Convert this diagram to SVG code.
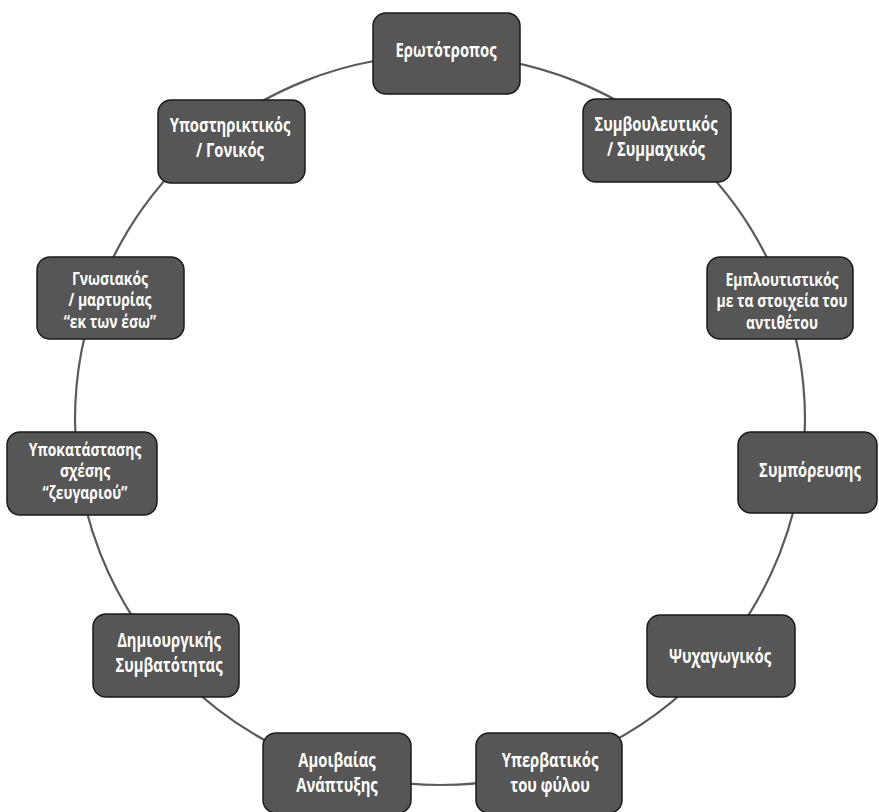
<svg xmlns="http://www.w3.org/2000/svg" width="879" height="812" viewBox="0 0 879 812">
<style>
.n rect{fill:#565656;stroke:#1a1a1a;stroke-width:1.5}
.t{fill:#ffffff;font-family:"Open Sans","Liberation Sans",sans-serif;font-weight:bold;font-size:20px;text-anchor:middle}
.s{fill:#ffffff;font-family:"Open Sans","Liberation Sans",sans-serif;font-weight:bold;font-size:17px;text-anchor:middle}
.c{fill:none;stroke:#5a5a5a;stroke-width:2.2}
</style>
<rect width="879" height="812" fill="#ffffff"/>
<g id="connectors">
<circle class="c" cx="440" cy="420" r="365"/>
</g>
<g id="n1" class="n"><rect x="373" y="13" width="147" height="81" rx="13"/><text class="t" transform="translate(446,57) scale(0.74,1)">Ερωτότροπος</text></g>
<g id="n2" class="n"><rect x="583" y="99" width="148" height="83" rx="13"/><text class="t" transform="translate(656,131) scale(0.74,1)"><tspan x="0" y="0">Συμβουλευτικός</tspan><tspan x="0" y="25">/ Συμμαχικός</tspan></text></g>
<g id="n3" class="n"><rect x="707" y="257" width="146" height="82" rx="13"/><text class="s" font-size="17" transform="translate(782,286) scale(0.82,1)"><tspan x="0" y="0">Εμπλουτιστικός</tspan><tspan x="0" y="21.5">με τα στοιχεία του</tspan><tspan x="0" y="43">αντιθέτου</tspan></text></g>
<g id="n4" class="n"><rect x="738" y="432" width="139" height="81" rx="13"/><text class="t" transform="translate(810,477) scale(0.74,1)">Συμπόρευσης</text></g>
<g id="n5" class="n"><rect x="647" y="615" width="148" height="82" rx="13"/><text class="t" transform="translate(720,663) scale(0.74,1)">Ψυχαγωγικός</text></g>
<g id="n6" class="n"><rect x="476" y="733" width="146" height="80" rx="13"/><text class="t" transform="translate(550,767) scale(0.74,1)"><tspan x="0" y="0">Υπερβατικός</tspan><tspan x="0" y="25">του φύλου</tspan></text></g>
<g id="n7" class="n"><rect x="263" y="733" width="148" height="80" rx="13"/><text class="t" transform="translate(337,767) scale(0.74,1)"><tspan x="0" y="0">Αμοιβαίας</tspan><tspan x="0" y="25">Ανάπτυξης</tspan></text></g>
<g id="n8" class="n"><rect x="93" y="614" width="146" height="83" rx="13"/><text class="t" transform="translate(169,647) scale(0.74,1)"><tspan x="0" y="0">Δημιουργικής</tspan><tspan x="0" y="25">Συμβατότητας</tspan></text></g>
<g id="n9" class="n"><rect x="7" y="432" width="150" height="83" rx="13"/><text class="s" font-size="17" transform="translate(85,456) scale(0.82,1)"><tspan x="0" y="0">Υποκατάστασης</tspan><tspan x="0" y="21.5">σχέσης</tspan><tspan x="0" y="43">“ζευγαριού”</tspan></text></g>
<g id="n10" class="n"><rect x="37" y="257" width="147" height="82" rx="13"/><text class="s" font-size="17" transform="translate(110,285) scale(0.82,1)"><tspan x="0" y="0">Γνωσιακός</tspan><tspan x="0" y="21.5">/ μαρτυρίας</tspan><tspan x="0" y="43">“εκ των έσω”</tspan></text></g>
<g id="n11" class="n"><rect x="158" y="100" width="147" height="83" rx="13"/><text class="t" transform="translate(230,132) scale(0.74,1)"><tspan x="0" y="0">Υποστηρικτικός</tspan><tspan x="0" y="25">/ Γονικός</tspan></text></g>
</svg>
